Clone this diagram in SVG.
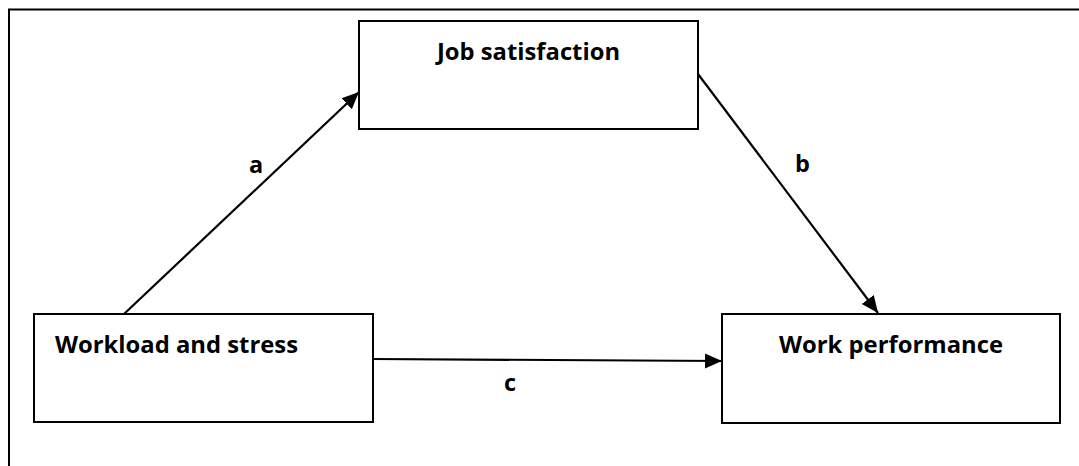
<svg xmlns="http://www.w3.org/2000/svg" width="1079" height="466" viewBox="0 0 1079 466">
<style>
.box{fill:#fff;stroke:#000;stroke-width:2}
.lbl{font-family:"Open Sans","Liberation Sans",sans-serif;font-weight:bold;font-size:23.5px;fill:#000}
.edge{stroke:#000;stroke-width:2.2;fill:none}
</style>
<defs>
<marker id="arr" markerUnits="userSpaceOnUse" markerWidth="18" markerHeight="18" viewBox="0 0 18 18" refX="17" refY="9" orient="auto">
<path d="M0,1.5 L17,9 L0,16.5 Z" fill="#000"/>
</marker>
</defs>
<rect width="1079" height="466" fill="#fff"/>
<path d="M9,466 V9.5 H1079" fill="none" stroke="#000" stroke-width="2"/>
<g id="connectors">
<line class="edge" x1="124" y1="314" x2="359" y2="92" marker-end="url(#arr)"/>
<line class="edge" x1="698" y1="74" x2="878" y2="313" marker-end="url(#arr)"/>
<line class="edge" x1="373" y1="359" x2="722" y2="361" marker-end="url(#arr)"/>
<text class="lbl" x="249" y="173">a</text>
<text class="lbl" x="795" y="172">b</text>
<text class="lbl" x="504" y="391">c</text>
</g>
<g id="job">
<rect class="box" x="359" y="21" width="339" height="108"/>
<text class="lbl" x="437" y="60" textLength="183" lengthAdjust="spacingAndGlyphs">Job satisfaction</text>
</g>
<g id="workload">
<rect class="box" x="34" y="314" width="339" height="108"/>
<text class="lbl" x="55" y="353" textLength="243" lengthAdjust="spacingAndGlyphs">Workload and stress</text>
</g>
<g id="performance">
<rect class="box" x="722" y="314" width="338" height="109"/>
<text class="lbl" x="779" y="353" textLength="224" lengthAdjust="spacingAndGlyphs">Work performance</text>
</g>
</svg>
